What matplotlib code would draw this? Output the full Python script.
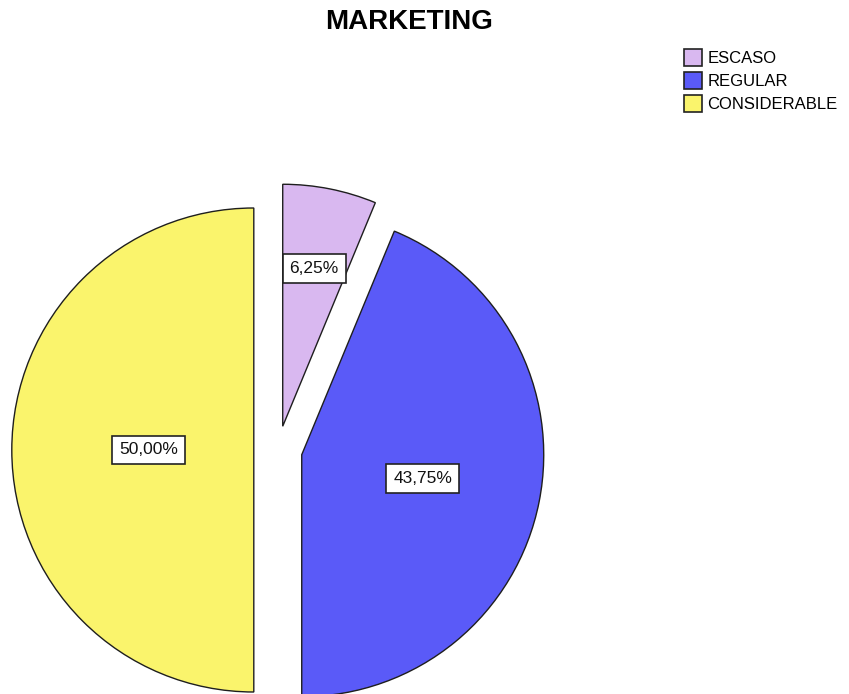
import matplotlib
matplotlib.use("Agg")
import matplotlib.pyplot as plt
import numpy as np

plt.rcParams['font.family'] = ['Liberation Sans', 'DejaVu Sans']

categories = ["ESCASO", "REGULAR", "CONSIDERABLE"]
percents = [6.25, 43.75, 50.00]
colors = ["#d9b8f0", "#5a5af8", "#faf46c"]
explode = [0.1, 0.1, 0.1]
# how far along the radius each value box sits
label_dist = [0.665, 0.51, 0.434]

W, H = 849, 694
fig = plt.figure(figsize=(W / 100, H / 100), dpi=100)
ax = fig.add_axes([0, 0, 1, 1])

radius = 242
# pie() takes explode in data units, so scale it by the radius
wedges, _ = ax.pie(percents, colors=colors,
                   explode=[e * radius for e in explode], startangle=90,
                   counterclock=False, radius=radius, center=(278, H - 450),
                   wedgeprops=dict(edgecolor="#1e1e1e", linewidth=1.0),
                   frame=True)
ax.set_xlim(0, W)
ax.set_ylim(0, H)
ax.set_aspect('equal')
ax.axis('off')

for w, p, d in zip(wedges, percents, label_dist):
    ang = np.deg2rad((w.theta1 + w.theta2) / 2)
    cx, cy = w.center
    x = cx + d * w.r * np.cos(ang)
    y = cy + d * w.r * np.sin(ang)
    ax.text(x, y, f"{p:.2f}%".replace(".", ","), ha='center', va='center',
            fontsize=12.5, color="#111111",
            bbox=dict(boxstyle="square,pad=0.4", facecolor="white",
                      edgecolor="#222222", linewidth=1.2))

fig.text(409.5 / W, 1 - 22 / H, "MARKETING", ha='center', va='center',
         fontsize=20, fontweight='bold')

leg = fig.legend(wedges, categories, loc='upper left',
                 bbox_to_anchor=(684 / W, 1 - 49 / H), frameon=False,
                 fontsize=12, handlelength=1.1, handleheight=1.15,
                 handletextpad=0.3, labelspacing=0.38, borderpad=0,
                 borderaxespad=0)
for h in leg.legend_handles:
    h.set_edgecolor("#222222")
    h.set_linewidth(1.2)

fig.savefig("out.png", dpi=100)
